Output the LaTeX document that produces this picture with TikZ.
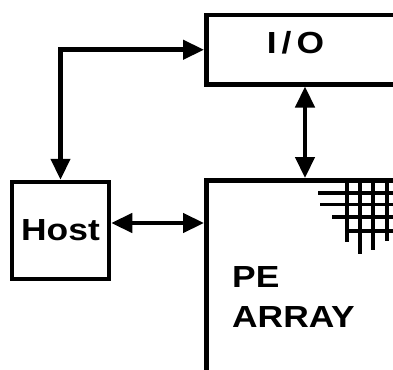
\documentclass[tikz,border=0pt]{standalone}
\usepackage{fontspec}
\newfontfamily\lblfont{Liberation Sans}[FakeStretch=1.16]
\usepackage{tikz}
\usetikzlibrary{arrows.meta,positioning,calc}

\begin{document}
\begin{tikzpicture}[
  x=1pt, y=-1pt,
  box/.style={draw, line width=4.5pt, inner sep=0pt},
  lbl/.style={font=\lblfont\bfseries\fontsize{30.5}{40}\selectfont, inner sep=0pt},
  ar/.style={{Triangle[length=21pt,width=19pt]}-{Triangle[length=21pt,width=19pt]}, line width=4.5pt},
  gl/.style={line width=3.5pt}]
  \useasboundingbox (0,0) rectangle (393,369);
  \clip (0,0) rectangle (393,369);
  \node[box, anchor=north west, minimum width=250pt, minimum height=69pt] (io) at (204,13) {};
  \node[lbl, anchor=base] (iolbl) at (295.5,53) {I\,/\,O};
  \node[box, minimum width=97pt, minimum height=97pt, lbl] (host) at (60.5,230.5) {Host};
  \node[box, anchor=north west, minimum width=250pt, minimum height=250pt] (pe) at (204,178) {};
  \node[lbl, align=left, anchor=north west] (pelbl) at (232,266.5) {PE\\ARRAY};
  % corner mesh
  \foreach \y/\x in {193/318, 204.5/320, 217/332, 231/347} \draw[gl] (\x,\y) -- (400,\y);
  \foreach \x/\y in {347/242, 360/254, 373/250, 387/241} \draw[gl] (\x,178) -- (\x,\y);
  % links
  \draw[ar] (host.north) |- (io.west);
  \draw[ar] ($(host.east)+(0,-7.5)$) -- ($(host.east -| pe.west)+(0,-7.5)$);
  \draw[ar] ($(io.south west)+(101,0)$) -- ($(pe.north west)+(101,0)$);
\end{tikzpicture}
\end{document}
